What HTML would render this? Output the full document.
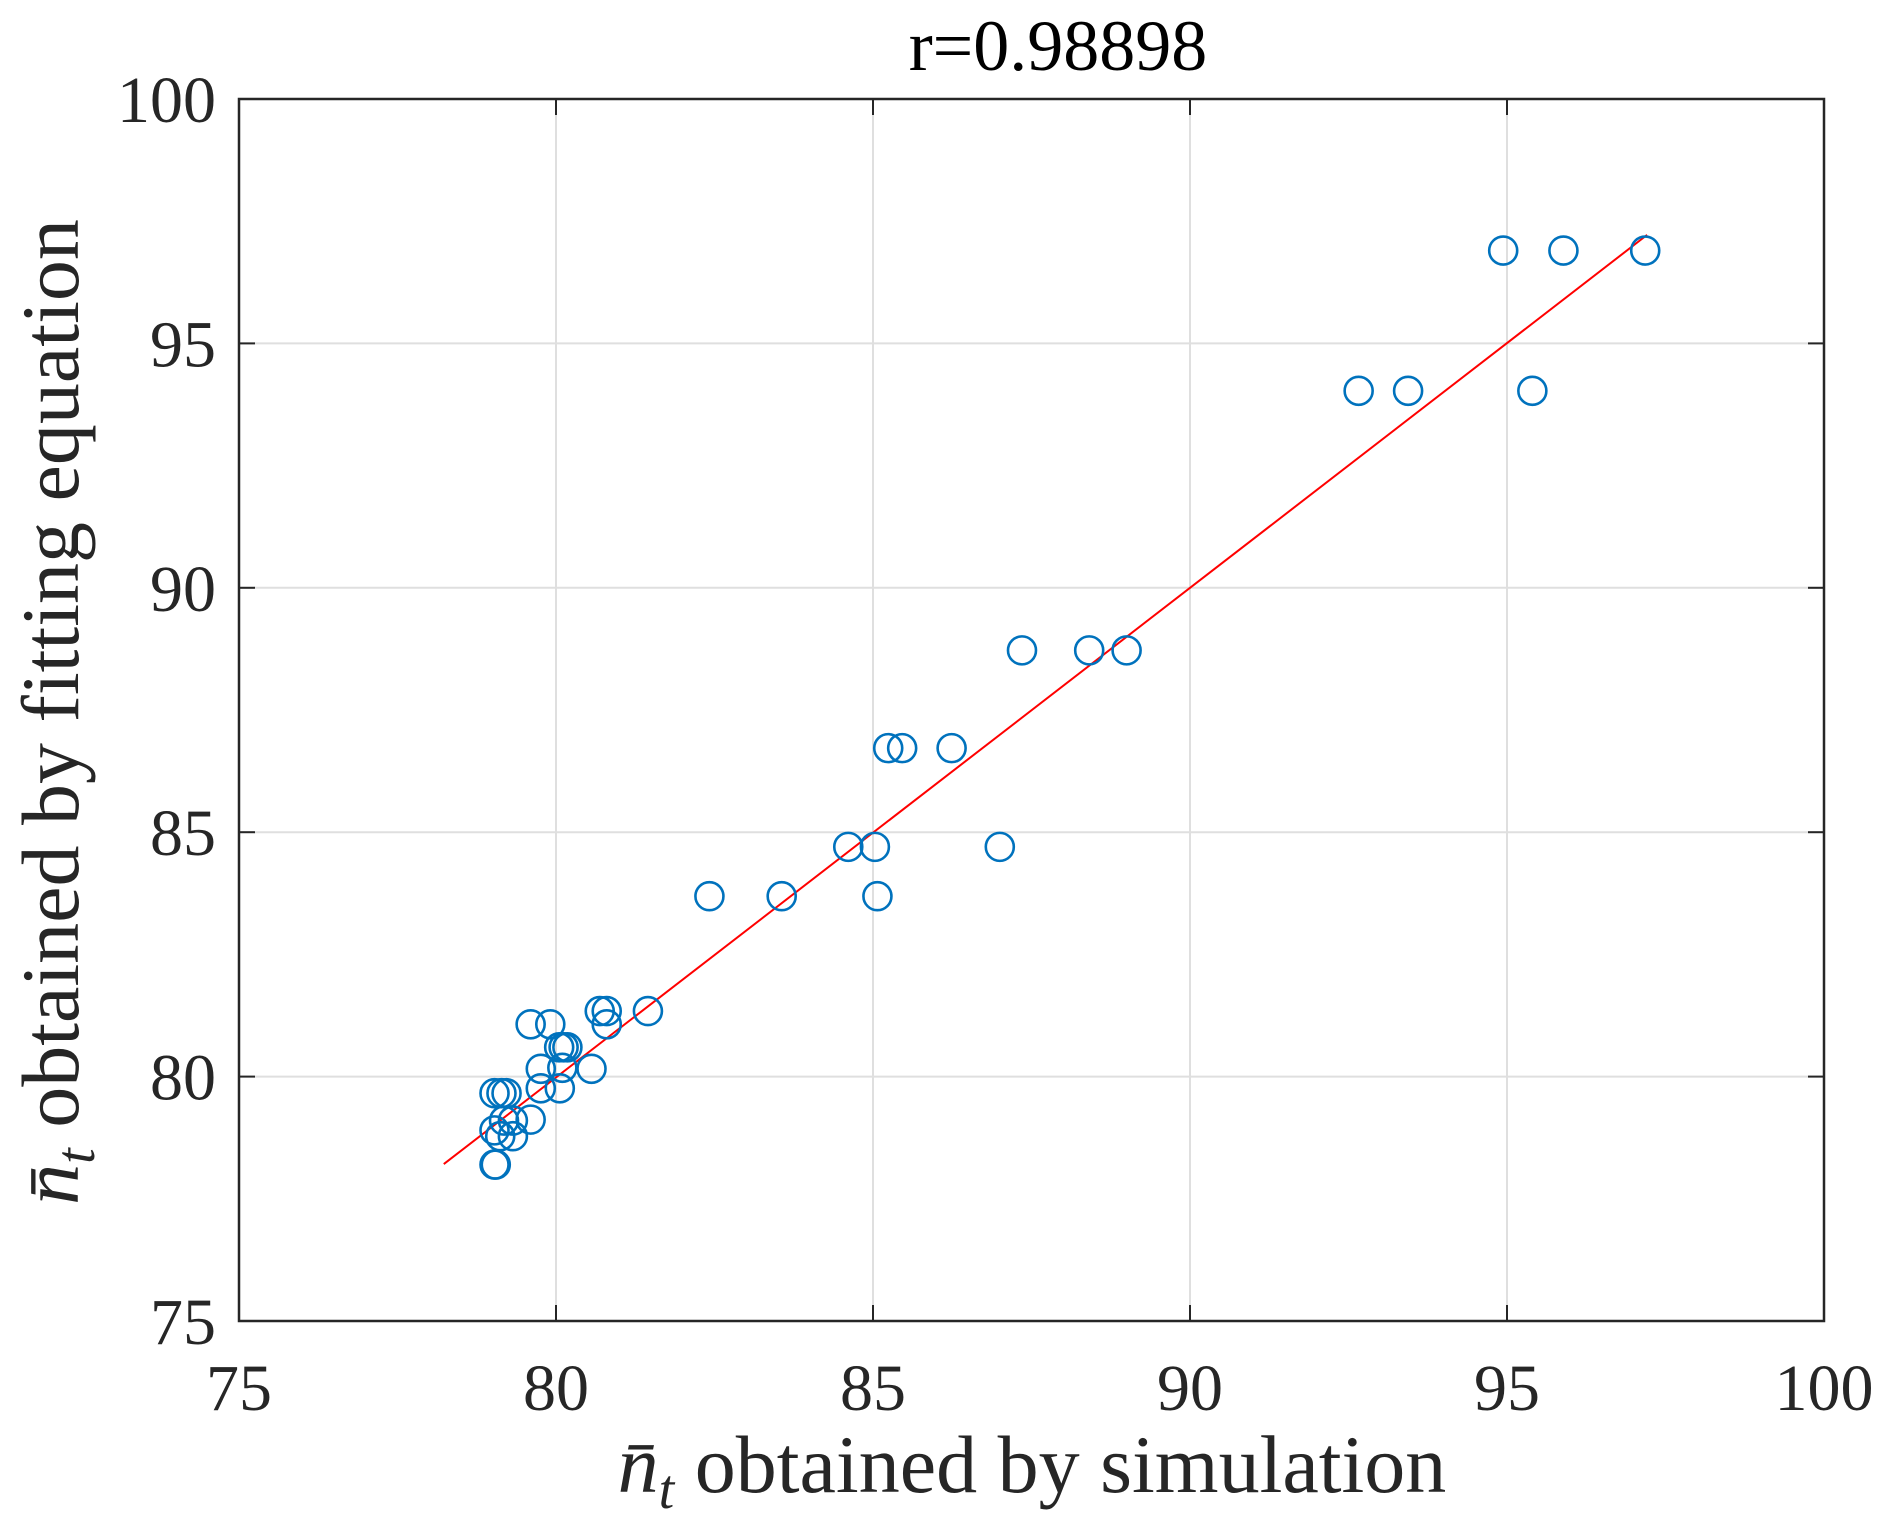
<!DOCTYPE html>
<html><head><meta charset="utf-8"><style>
html,body{margin:0;padding:0;background:#fff;}
svg{display:block;font-family:"Liberation Serif",serif;}
</style></head><body>
<svg id="chart" width="1892" height="1526" viewBox="0 0 1892 1526">
<g id="grid"></g>
<g id="fit"></g>
<g id="pts"></g>
<g id="axes"></g>
<text x="1058" y="70" font-size="72" text-anchor="middle" fill="#000">r=0.98898</text>
<text x="1032" y="1492" font-size="82" text-anchor="middle" fill="#262626"><tspan font-style="italic">n̄</tspan><tspan font-style="italic" font-size="56" dy="16">t</tspan><tspan dy="-16"> obtained by simulation</tspan></text>
<text transform="translate(78,712) rotate(-90)" font-size="82" text-anchor="middle" fill="#262626"><tspan font-style="italic">n̄</tspan><tspan font-style="italic" font-size="56" dy="16">t</tspan><tspan dy="-16"> obtained by fitting equation</tspan></text>
</svg>
<script>
const xTicks=[75,80,85,90,95,100];
const yTicks=[75,80,85,90,95,100];
const simX=[94.94,95.89,97.18,92.66,93.44,95.40,87.35,88.41,89.0,85.24,85.46,86.24,84.61,85.03,87.0,82.42,83.56,85.07,81.45,80.69,80.80,80.80,79.60,79.91,80.05,80.12,80.18,80.56,79.76,80.10,80.06,79.76,79.60,79.03,79.14,79.22,79.18,79.32,79.03,79.12,79.32,79.03,79.05];
const fitY=[96.9,96.9,96.9,94.03,94.03,94.03,88.72,88.72,88.72,86.72,86.72,86.72,84.70,84.70,84.70,83.69,83.69,83.69,81.34,81.34,81.34,81.07,81.07,81.07,80.60,80.60,80.60,80.16,80.16,80.18,79.76,79.76,79.12,79.66,79.66,79.66,79.10,79.10,78.90,78.78,78.78,78.20,78.20];
const lineX=[78.23,97.21];
const lineY=[78.21,97.22];
const L=239,R=1824,T=99,B=1321;
const sx=v=>L+(v-75)/25*(R-L);
const sy=v=>B-(v-75)/25*(B-T);
const NS="http://www.w3.org/2000/svg";
function mk(tag,attrs,parent){const e=document.createElementNS(NS,tag);for(const k in attrs)e.setAttribute(k,attrs[k]);parent.appendChild(e);return e;}
const grid=document.getElementById('grid'),axes=document.getElementById('axes'),pts=document.getElementById('pts'),fit=document.getElementById('fit');
xTicks.forEach(v=>{
  const g=mk('line',{x1:sx(v),x2:sx(v),y1:T,y2:B,stroke:'#dfdfdf','stroke-width':2},grid);
  
  
  const t1=mk('line',{x1:sx(v),x2:sx(v),y1:B,y2:B-16,stroke:'#262626','stroke-width':2},axes);
  
  
  const t2=mk('line',{x1:sx(v),x2:sx(v),y1:T,y2:T+16,stroke:'#262626','stroke-width':2},axes);
  
  
  const tx=mk('text',{x:sx(v),y:1410,'font-size':66,'text-anchor':'middle',fill:'#262626'},axes);
  tx.textContent=v;
  
  
});
yTicks.forEach(v=>{
  const g=mk('line',{x1:L,x2:R,y1:sy(v),y2:sy(v),stroke:'#dfdfdf','stroke-width':2},grid);
  
  
  const t1=mk('line',{x1:L,x2:L+16,y1:sy(v),y2:sy(v),stroke:'#262626','stroke-width':2},axes);
  
  
  const t2=mk('line',{x1:R,x2:R-16,y1:sy(v),y2:sy(v),stroke:'#262626','stroke-width':2},axes);
  
  
  const tx=mk('text',{x:216,y:sy(v)+23,'font-size':66,'text-anchor':'end',fill:'#262626'},axes);
  tx.textContent=v;
  
  
});
const box=mk('rect',{x:L,y:T,width:R-L,height:B-T,fill:'none',stroke:'#262626','stroke-width':2.5},axes);


const fl=mk('line',{x1:sx(lineX[0]),y1:sy(lineY[0]),x2:sx(lineX[1]),y2:sy(lineY[1]),stroke:'#ff0000','stroke-width':2},fit);


simX.forEach((v,i)=>{
  const c=mk('circle',{cx:sx(v),cy:sy(fitY[i]),r:14,fill:'none',stroke:'#0072bd','stroke-width':2.6},pts);
  
  
});
</script>
</body></html>
